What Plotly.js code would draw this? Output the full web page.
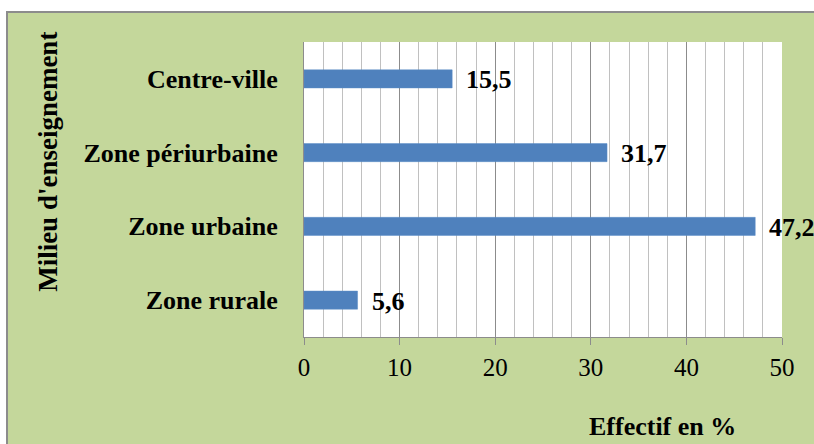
<!DOCTYPE html>
<html>
<head>
<meta charset="utf-8">
<script src="https://cdn.plot.ly/plotly-3.0.1.min.js"></script>
<style>
  html, body { margin: 0; padding: 0; background: #ffffff; width: 814px; height: 444px; overflow: hidden; }
  #frame { position: absolute; left: 6px; top: 11px; width: 808px; height: 433px;
           border-left: 2px solid #8c8c8c; border-top: 2px solid #8c8c8c; background: #c4d79b; }
  #chart { width: 808px; height: 433px; }
</style>
</head>
<body>
<div id="frame"><div id="chart"></div></div>
<script>
// Data (bottom to top)
const categories = ["Zone rurale", "Zone urbaine", "Zone périurbaine", "Centre-ville"];
const values = [5.6, 47.2, 31.7, 15.5];
const xTickValues = [0, 10, 20, 30, 40, 50];
const xTitle = "Effectif en %";
const yTitle = "Milieu d'enseignement";

const serif = "Liberation Serif, Times New Roman, serif";
const labels = values.map(v => String(v).replace('.', ','));

const trace = {
  type: 'bar',
  orientation: 'h',
  y: categories,
  x: values,
  marker: { color: '#4f81bd', line: { color: '#5b8cc6', width: 0.5 } },
  hoverinfo: 'none'
};

const annotations = categories.map((c, i) => ({
  x: values[i], y: c, xref: 'x', yref: 'y',
  text: '<b>' + labels[i] + '</b>',
  showarrow: false, xanchor: 'left', yanchor: 'middle', xshift: 12, yshift: -1,
  font: { family: serif, size: 26, color: '#000000' }
}));
annotations.push({
  xref: 'paper', yref: 'paper', x: 0.749, y: -0.305, xanchor: 'center', yanchor: 'middle',
  text: '<b>' + xTitle + '</b>', showarrow: false,
  font: { family: serif, size: 26, color: '#000000' }
});
annotations.push({
  xref: 'paper', yref: 'paper', x: -0.536, y: 0.593, xanchor: 'center', yanchor: 'middle',
  text: '<b>' + yTitle + '</b>', showarrow: false, textangle: -90,
  font: { family: serif, size: 27, color: '#000000' }
});

const layout = {
  width: 808, height: 433,
  paper_bgcolor: 'rgba(0,0,0,0)',
  plot_bgcolor: '#ffffff',
  margin: { l: 296, r: 34, t: 29, b: 109, pad: 0 },
  showlegend: false,
  bargap: 0.755,
  xaxis: {
    range: [0, 50],
    tickvals: xTickValues,
    ticktext: xTickValues.map(String),
    showgrid: true, gridcolor: '#8c8c8c', gridwidth: 1,
    minor: { dtick: 2, showgrid: true, gridcolor: '#c0c0c0', gridwidth: 1, ticks: '' },
    showline: true, linecolor: '#8c8c8c', linewidth: 1,
    ticks: 'outside', ticklen: 7, tickcolor: '#8c8c8c',
    ticklabelstandoff: 1,
    tickfont: { family: serif, size: 25, color: '#000000' },
    zeroline: false, fixedrange: true
  },
  yaxis: {
    type: 'category',
    categoryorder: 'array', categoryarray: categories,
    showgrid: false, zeroline: false,
    showline: true, linecolor: '#8c8c8c', linewidth: 1,
    ticks: '', ticklabelstandoff: 20,
    tickfont: { family: serif, size: 26, color: '#000000', weight: 'bold' },
    fixedrange: true
  },
  annotations: annotations
};

Plotly.newPlot('chart', [trace], layout, { displayModeBar: false, staticPlot: true });
</script>
</body>
</html>
